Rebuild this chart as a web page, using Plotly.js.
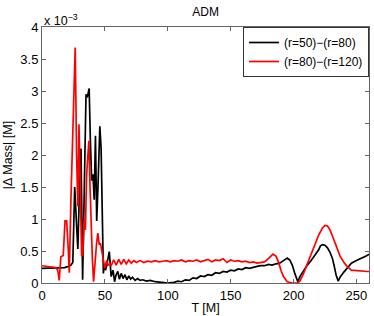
<!DOCTYPE html>
<html>
<head>
<meta charset="utf-8">
<script src="https://cdn.plot.ly/plotly-3.0.1.min.js"></script>
<style>html,body{margin:0;padding:0;background:#fff;}#chart{width:374px;height:316px;}</style>
</head>
<body>
<div id="chart"></div>
<script>
// Values in units of 1e-3 M
var blackT = [0,5,10,15,18,21,23,24.5,26,27.5,28.5,30,31,32.3,33.5,35,36,37.5,38.5,39.5,40.5,41.5,42.5,43.5,44.5,46,47,48,48.8,49.5,50.5,51.5,53.5,55,56.5,57.7,58.8,60.3,61.5,63,64.5,66,67.5,69,70.5,72,74,76,78,80,83,86,90,95,100,105,108,111,114,117,120,123,126,129,132,135,138,141,144,147,150,153,156,159,162,165,168,171,174,177,180,183,186,189,192,195,197,199,201,203.4,205,208,211,214,217,220,221.4,223,225,227,229,231,232.5,233.9,235.5,237,240,243,246,250,254,257.7,260];
var blackV = [0.23,0.23,0.23,0.23,0.24,0.26,0.28,0.32,1.5,0.9,0.53,1.6,2.1,0.05,1.2,2.95,2.9,3.04,2.2,1.6,1.7,1.3,2.3,0.97,1.5,2.45,2.1,0.5,0.15,0.3,0.2,0.28,0.49,0.1,0.2,0.02,0.12,0.18,0.06,0.15,0.07,0.13,0.05,0.11,0.06,0.09,0.04,0.07,0.04,0.05,0.03,0.04,0.02,0.01,0.0,0.01,0.03,0.02,0.05,0.04,0.08,0.07,0.11,0.1,0.13,0.12,0.16,0.15,0.18,0.17,0.2,0.19,0.22,0.21,0.24,0.23,0.25,0.26,0.27,0.27,0.29,0.28,0.3,0.31,0.35,0.39,0.36,0.28,0.15,0.02,0.1,0.2,0.28,0.35,0.43,0.52,0.58,0.6,0.59,0.55,0.48,0.38,0.25,0.12,0.03,0.09,0.17,0.24,0.31,0.35,0.38,0.42,0.45,0.48,0.49];

var redT = [0,4,8,11,12.5,13.7,15,16.9,18.3,19.6,20.9,21.7,23,24.5,26.4,27.5,28.5,29.4,30.3,31.5,32.5,33.5,34.5,35.5,36.5,37.3,38.2,39,40,41,42,43.4,44.4,45.5,46.5,47.4,48.5,50,51.3,52.5,53.9,55,57,59,61,63,65,67,69,71,73,75,78,81,84,87,90,93,96,99,102,105,108,111,114,117,120,123,126,129,132,135,138,141,144,147,150,153,156,159,162,165,168,171,174,177,180,183.6,186,188,190,192,195,199,203,205,208,211,214,217,220,223,225,227,229,231,234,237,240.5,243,246,250,254,258.7,260];
var redV = [0.27,0.26,0.25,0.24,0.2,0.04,0.41,0.43,0.97,0.97,0.52,0.16,1.3,2.4,3.68,2.0,1.2,2.48,1.7,0.42,0.44,1.0,0.83,1.7,2.0,2.22,1.5,0.9,0.4,0.02,0.3,0.62,0.78,0.6,0.62,0.52,0.35,0.23,0.35,0.28,0.3,0.27,0.36,0.28,0.37,0.29,0.37,0.3,0.36,0.31,0.35,0.32,0.35,0.32,0.34,0.33,0.35,0.33,0.34,0.35,0.33,0.35,0.34,0.36,0.33,0.35,0.34,0.36,0.33,0.35,0.37,0.33,0.36,0.35,0.38,0.32,0.36,0.34,0.35,0.33,0.34,0.32,0.33,0.31,0.32,0.33,0.38,0.45,0.42,0.33,0.2,0.1,0.02,0.0,0.0,0.03,0.15,0.3,0.46,0.62,0.75,0.86,0.9,0.89,0.83,0.73,0.57,0.42,0.31,0.25,0.2,0.19,0.18,0.18,0.18];

var seriesNames = ['(r=50)\u2212(r=80)', '(r=80)\u2212(r=120)'];
var xTicks = [0,50,100,150,200,250];
var yTicks = [0,0.5,1,1.5,2,2.5,3,3.5,4];

var fam = '"Liberation Sans", Arial, Helvetica, sans-serif';
var tickFont = {family: fam, size: 13, color: '#000'};
var labFont = {family: fam, size: 12.5, color: '#000'};

var traces = [
  {x: blackT, y: blackV, mode: 'lines', name: seriesNames[0], line: {color: '#000000', width: 1.7}},
  {x: redT, y: redV, mode: 'lines', name: seriesNames[1], line: {color: '#ff0000', width: 1.7}}
];

var axisCommon = {
  showgrid: false, zeroline: false, showline: true, linecolor: '#666', linewidth: 1,
  mirror: 'allticks', ticks: 'inside', ticklen: 4, tickcolor: '#666', tickfont: tickFont
};

var layout = {
  width: 374, height: 316,
  margin: {l: 42, r: 5, t: 27, b: 33},
  paper_bgcolor: '#fff', plot_bgcolor: '#fff',
  font: labFont,
  title: {text: 'ADM', font: {family: fam, size: 12, color: '#000'}, x: 0.55, xanchor: 'center', y: 0.975, yanchor: 'top'},
  showlegend: true,
  legend: {x: 1, xanchor: 'right', y: 1, yanchor: 'top', bgcolor: '#fff', bordercolor: '#333', borderwidth: 1,
           font: {family: fam, size: 12, color: '#000'}, tracegroupgap: 0, itemwidth: 30},
  xaxis: Object.assign({}, axisCommon, {range: [0, 260], tickvals: xTicks, ticktext: xTicks.map(String),
          title: {text: 'T [M]', font: labFont, standoff: 1}}),
  yaxis: Object.assign({}, axisCommon, {range: [0, 4], tickvals: yTicks, ticktext: yTicks.map(String),
          title: {text: '|\u0394 Mass| [M]', font: labFont, standoff: 4}}),
  annotations: [
    {text: 'x 10<sup>\u22123</sup>', xref: 'paper', yref: 'paper', x: 0, y: 1, xanchor: 'left', yanchor: 'bottom',
     showarrow: false, font: {family: fam, size: 12.5, color: '#000'}, yshift: -3}
  ]
};

Plotly.newPlot('chart', traces, layout, {displayModeBar: false, staticPlot: true});
</script>
</body>
</html>
